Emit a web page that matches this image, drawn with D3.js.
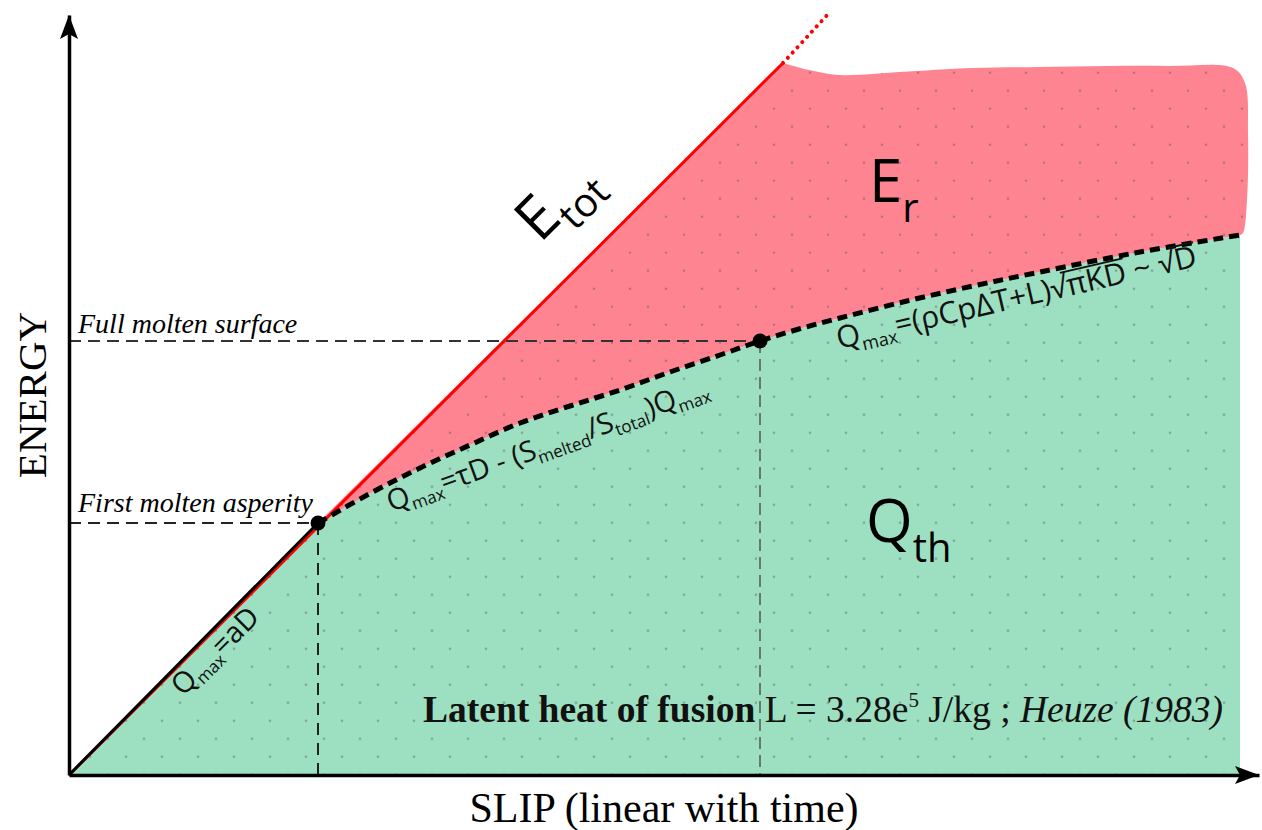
<!DOCTYPE html>
<html><head><meta charset="utf-8">
<script src="https://cdn.jsdelivr.net/npm/d3@7"></script>
<style>body{margin:0;background:#fff} svg{display:block}</style>
</head><body><svg id="chart" width="1262" height="830"></svg>
<script>
// Slip D and energy, in arbitrary units
const etotSlip = [0, 7.14];
const etotEnergy = [0, 7.12];
const etotExtSlip = [7.14, 7.61];
const etotExtEnergy = [7.12, 7.63];
const firstMolten = [2.49, 2.52];   // first molten asperity
const fullMolten = [6.91, 4.34];    // full molten surface
const qmaxSlip = [2.49, 3.0, 3.51, 4.01, 4.51, 5.01, 5.51, 6.01, 6.51, 6.91, 7.3, 7.71, 8.38, 9.04, 9.71, 10.71, 11.71];
const qmaxEnergy = [2.52, 2.81, 3.07, 3.30, 3.52, 3.69, 3.85, 4.03, 4.20, 4.34, 4.46, 4.57, 4.74, 4.89, 5.03, 5.23, 5.40];
const erTopSlip = [7.14, 7.4, 7.71, 8.3, 9.04, 9.7, 10.38, 11.0, 11.64, 11.76, 11.79, 11.78, 11.74, 11.71];
const erTopEnergy = [7.12, 7.05, 7.00, 7.03, 7.07, 7.08, 7.09, 7.09, 7.07, 6.92, 6.42, 5.75, 5.42, 5.40];
const slipMax = 11.9, energyMax = 7.6;

const svg = d3.select("#chart");
const x = d3.scaleLinear().domain([0, slipMax]).range([69, 1259]);
const y = d3.scaleLinear().domain([0, energyMax]).range([775, 15]);

const pts = (xs, ys) => xs.map((d, i) => [d, ys[i]]);
const lin = d3.line().x(d => x(d[0])).y(d => y(d[1]));
const crLine = d3.line().x(d => x(d[0])).y(d => y(d[1])).curve(d3.curveCatmullRom.alpha(0.5));
const join = (...parts) => parts.map((p, i) => i ? p.replace(/^M/, "L") : p).join("") + "Z";

const qmaxPts = pts(qmaxSlip, qmaxEnergy);
const qEnd = qmaxPts[qmaxPts.length - 1];
const etotEnd = [etotSlip[1], etotEnergy[1]];

// dotted background texture
const defs = svg.append("defs");
const pat = defs.append("pattern").attr("id", "dots").attr("patternUnits", "userSpaceOnUse")
  .attr("x", 0).attr("y", 0.7).attr("width", 36).attr("height", 36);
[[18, 0], [0, 18], [36, 18], [18, 36]].forEach(([cx, cy]) =>
  pat.append("circle").attr("cx", cx).attr("cy", cy).attr("r", 1.3).attr("fill", "#5a5a5a").attr("fill-opacity", 0.45));

// Q_th region (heat)
const greenPath = join(
  lin([[0, 0], firstMolten]),
  crLine(qmaxPts),
  lin([qEnd, [qEnd[0], 0], [0, 0]])
);
// E_r region (radiated energy)
const redPath = join(
  lin([firstMolten, etotEnd]),
  crLine(pts(erTopSlip, erTopEnergy)),
  crLine(qmaxPts.slice().reverse())
);
svg.append("path").attr("d", greenPath).attr("fill", "#9de0c1");
svg.append("path").attr("d", redPath).attr("fill", "#ff8492");
svg.append("path").attr("d", greenPath).attr("fill", "url(#dots)");
svg.append("path").attr("d", redPath).attr("fill", "url(#dots)");

// reference levels
const dashG = svg.append("g").attr("fill", "none");
dashG.append("path").attr("d", lin([[0, fullMolten[1]], fullMolten]))
  .attr("stroke", "#333").attr("stroke-width", 2).attr("stroke-dasharray", "12,7");
dashG.append("path").attr("d", lin([[0, firstMolten[1]], firstMolten]))
  .attr("stroke", "#222").attr("stroke-width", 2).attr("stroke-dasharray", "12,7");
dashG.append("path").attr("d", lin([firstMolten, [firstMolten[0], 0]]))
  .attr("stroke", "#222").attr("stroke-width", 2).attr("stroke-dasharray", "12,8");
dashG.append("path").attr("d", lin([fullMolten, [fullMolten[0], 0]]))
  .attr("stroke", "#555").attr("stroke-width", 1.5).attr("stroke-dasharray", "12,6");

// total energy
svg.append("path").attr("d", lin(pts(etotSlip, etotEnergy)))
  .attr("fill", "none").attr("stroke", "#ff0000").attr("stroke-width", 3);
svg.append("path").attr("d", lin(pts(etotExtSlip, etotExtEnergy)))
  .attr("fill", "none").attr("stroke", "#ff0000").attr("stroke-width", 4)
  .attr("stroke-dasharray", "0.1,7").attr("stroke-linecap", "round");
svg.append("path").attr("d", lin([[0, 0], firstMolten]))
  .attr("fill", "none").attr("stroke", "#000").attr("stroke-width", 3);

// Qmax curve
svg.append("path").attr("d", crLine(qmaxPts))
  .attr("fill", "none").attr("stroke", "#000").attr("stroke-width", 5).attr("stroke-dasharray", "10,6");

// molten markers
svg.selectAll("circle.mk").data([firstMolten, fullMolten]).join("circle")
  .attr("class", "mk").attr("cx", d => x(d[0])).attr("cy", d => y(d[1])).attr("r", 7.5).attr("fill", "#000");

// axes
svg.append("g").attr("transform", `translate(0,${y(0)})`)
  .call(d3.axisBottom(x).tickValues([]).tickSizeOuter(0));
svg.append("g").attr("transform", `translate(${x(0)},0)`)
  .call(d3.axisLeft(y).tickValues([]).tickSizeOuter(0));
svg.selectAll(".domain").attr("stroke", "#000").attr("stroke-width", 3.5);
const ax0 = x(0), ay0 = y(0), xTip = x(slipMax), yTip = y(energyMax);
svg.append("path").attr("fill", "#000")
  .attr("d", `M${ax0},${yTip} L${ax0 + 9},${yTip + 24} L${ax0},${yTip + 19} L${ax0 - 9},${yTip + 24} Z`);
svg.append("path").attr("fill", "#000")
  .attr("d", `M${xTip},${ay0} L${xTip - 24},${ay0 - 9} L${xTip - 19},${ay0} L${xTip - 24},${ay0 + 9} Z`);

// axis titles
const serif = "'Liberation Serif', 'Times New Roman', serif";
const sans = "'Open Sans', sans-serif";
svg.append("text").attr("x", (x(0) + x(slipMax)) / 2).attr("y", 822).attr("text-anchor", "middle")
  .attr("font-family", serif).attr("font-size", 42).text("SLIP (linear with time)");
svg.append("text").attr("transform", `translate(46,${(y(0) + y(energyMax)) / 2}) rotate(-90)`)
  .attr("text-anchor", "middle").attr("font-family", serif).attr("font-size", 41).text("ENERGY");

// level labels
svg.append("text").attr("x", 78).attr("y", y(fullMolten[1]) - 8).attr("font-family", serif)
  .attr("font-style", "italic").attr("font-size", 28).text("Full molten surface");
svg.append("text").attr("x", 78).attr("y", y(firstMolten[1]) - 11).attr("font-family", serif)
  .attr("font-style", "italic").attr("font-size", 28).text("First molten asperity");

// region labels
function subLabel(tx, ty, rot, main, sub, size, subSize, dy) {
  const t = svg.append("text").attr("transform", `translate(${tx},${ty}) rotate(${rot})`)
    .attr("font-family", sans).attr("fill", "#000");
  t.append("tspan").attr("font-size", size).text(main);
  t.append("tspan").attr("font-size", subSize).attr("dy", dy).text(sub);
  return t;
}
subLabel(540, 244, -45, "E", "tot", 60, 40, 16);
subLabel(869, 202, 0, "E", "r", 60, 40, 20);
subLabel(866, 542, 0, "Q", "th", 60, 40, 20);

// equation labels; parts flagged "o" get a radical bar joined to the preceding √
function eq(tx, ty, rot, size, parts) {
  const sub = Math.round(size * 0.6), off = Math.round(size * 0.22);
  const g = svg.append("g").attr("transform", `translate(${tx},${ty}) rotate(${rot})`);
  const t = g.append("text").attr("font-family", sans).attr("fill", "#111");
  let idx = 0;
  const bars = [];
  parts.forEach(p => {
    const s = t.append("tspan").attr("font-size", p.sub ? sub : size).text(p.t);
    if (p.dy) s.attr("dy", p.dy * off);
    if (p.o) bars.push([idx, idx + p.t.length - 1]);
    idx += p.t.length;
  });
  const node = t.node();
  bars.forEach(([a, b]) => {
    const root = node.getExtentOfChar(a - 1);
    const last = node.getExtentOfChar(b);
    const x0 = root.x + root.width * 0.78, x1 = last.x + last.width;
    g.append("line").attr("x1", x0).attr("x2", x1)
      .attr("y1", -size * 0.8).attr("y2", -size * 0.8)
      .attr("stroke", "#111").attr("stroke-width", size * 0.06);
  });
}
eq(183, 697, -45, 29, [{ t: "Q" }, { t: "max", sub: true, dy: 1 }, { t: "=aD", dy: -1 }]);
eq(391, 512, -20, 29, [
  { t: "Q" }, { t: "max", sub: true, dy: 1 }, { t: "=τD - (S", dy: -1 },
  { t: "melted", sub: true, dy: 1 }, { t: "/S", dy: -1 }, { t: "total", sub: true, dy: 1 },
  { t: ")Q", dy: -1 }, { t: "max", sub: true, dy: 1 }
]);
eq(839, 349, -13, 30.5, [
  { t: "Q" }, { t: "max", sub: true, dy: 1 }, { t: "=(ρCpΔT+L)√", dy: -1 },
  { t: "πKD", o: true }, { t: " ~ √" }, { t: "D", o: true }
]);

// footnote
const foot = svg.append("text").attr("x", 423).attr("y", 722).attr("font-family", serif).attr("font-size", 37.5).attr("fill", "#111");
foot.append("tspan").attr("font-weight", "bold").text("Latent heat of fusion ");
foot.append("tspan").text("L = 3.28e");
foot.append("tspan").attr("font-size", 21).attr("dy", -15).text("5");
foot.append("tspan").attr("dy", 15).text(" J/kg ; ");
foot.append("tspan").attr("font-style", "italic").text("Heuze (1983)");
</script>
</body></html>
